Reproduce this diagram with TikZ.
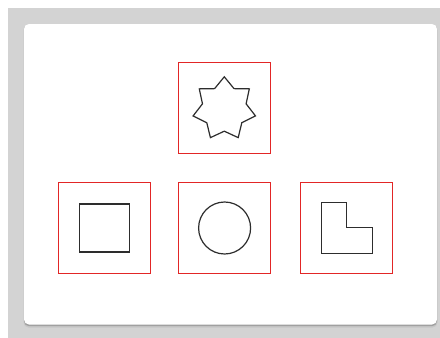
\documentclass[tikz,border=0pt]{standalone}
\usepackage{tikz}
\usetikzlibrary{shapes.geometric}
\definecolor{panelGray}{RGB}{211, 211, 211}
\definecolor{shadowGray}{RGB}{160, 160, 160}
\definecolor{frameRed}{RGB}{226, 38, 38}
\definecolor{shapeInk}{RGB}{45, 45, 45}

\tikzset{
    redframe/.style={draw=frameRed, line width=0.9pt, minimum width=92pt, minimum height=91pt, inner sep=0pt},
    outline/.style={draw=shapeInk, line width=1.2pt, inner sep=0pt}
}

\begin{document}
\begin{tikzpicture}[x=1pt, y=-1pt]
    \useasboundingbox (0,0) rectangle (440,338);
    % backdrop and card
    \fill[panelGray] (8,8) rectangle (440,338);
    \fill[shadowGray!60, rounded corners=5pt] (23.5,25) rectangle (437.5,327.5);
    \fill[shadowGray, rounded corners=5pt] (24,24.5) rectangle (437,326.2);
    \fill[white, rounded corners=5pt] (24,24) rectangle (437,324.5);

    % frames
    \node[redframe] (starbox) at (224.6,108.3) {};
    \node[redframe] (squarebox) at (104.5,228) {};
    \node[redframe] (circlebox) at (224.6,228) {};
    \node[redframe] (lbox) at (346.5,228) {};

    % shapes inside the frames
    \node[outline, star, star points=7, star point ratio=1.43, minimum size=64pt] (starshape) at (224.3,108.8) {};
    \node[outline, rectangle, minimum width=50pt, minimum height=48pt] (squareshape) at (squarebox.center) {};
    \node[outline, circle, minimum size=52pt] (circleshape) at (circlebox.center) {};
    \draw[outline] ([shift={(-25,-25.7)}]lbox.center) -- ++(25,0) -- ++(0,25.4)
        -- ++(25.6,0) -- ++(0,26) -- ++(-50.6,0) -- cycle;
\end{tikzpicture}
\end{document}
